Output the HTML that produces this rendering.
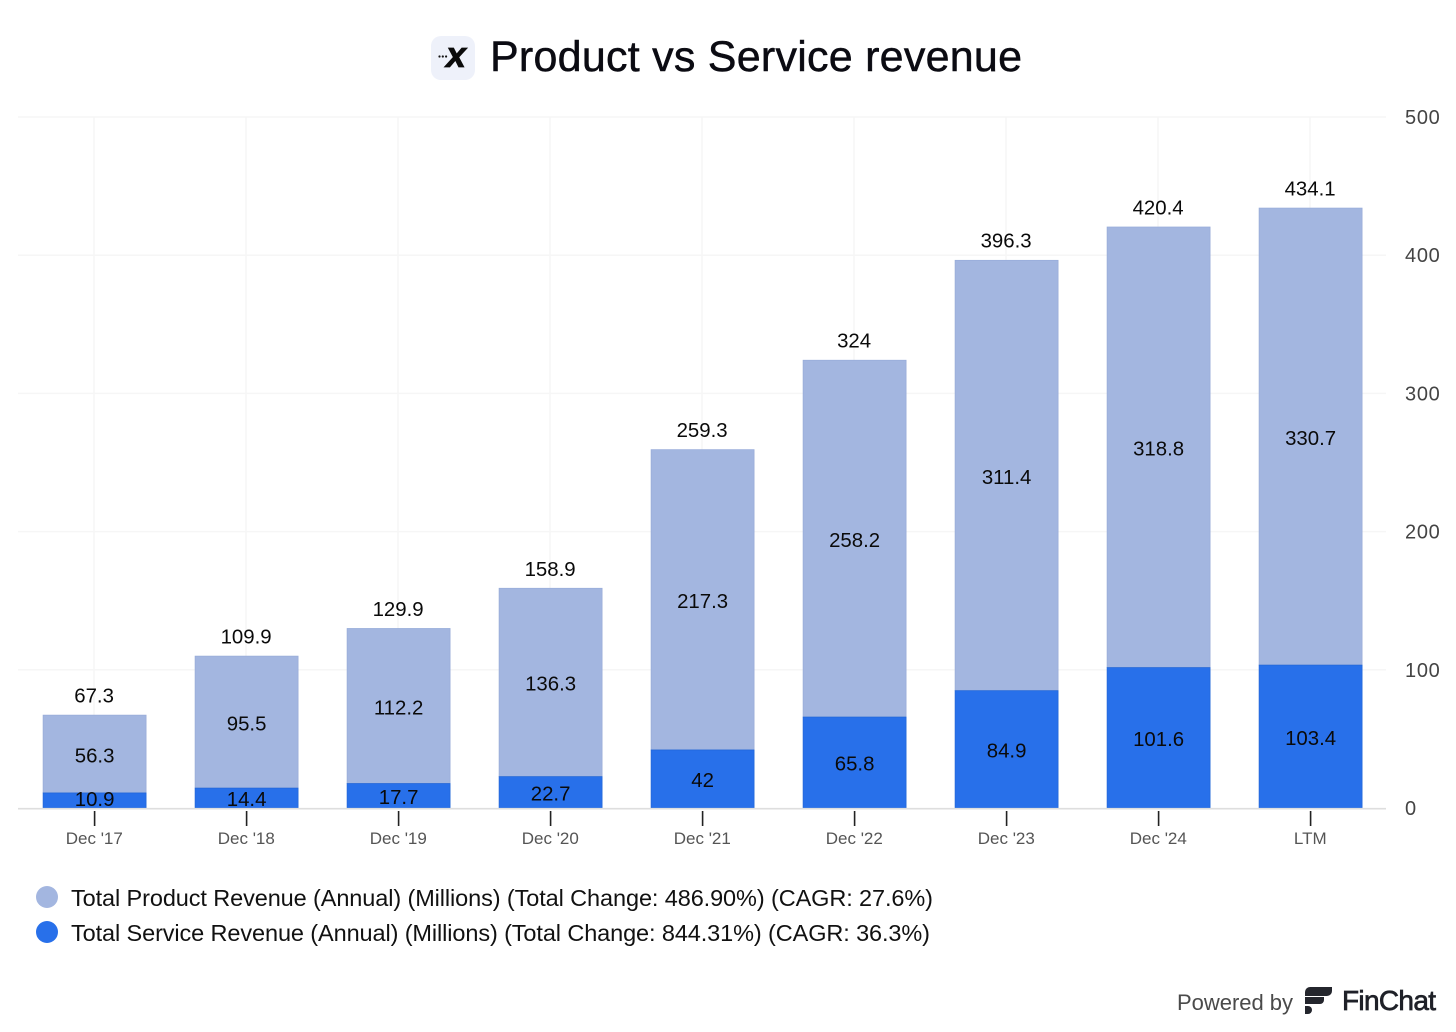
<!DOCTYPE html>
<html lang="en">
<head>
<meta charset="utf-8">
<title>Product vs Service revenue</title>
<style>
html,body{margin:0;padding:0;background:#fff;}
body{width:1456px;height:1032px;overflow:hidden;}
svg{display:block;}
text{font-family:"Liberation Sans",sans-serif;}
</style>
</head>
<body>
<svg id="chart" width="1456" height="1032" viewBox="0 0 1456 1032" xmlns="http://www.w3.org/2000/svg">
  <rect x="0" y="0" width="1456" height="1032" fill="#ffffff"/>
  <g>
    <rect x="431" y="36" width="44" height="44" rx="10" fill="#eef1fa"/>
    <circle cx="439.5" cy="56.5" r="1.1" fill="#111"/>
    <circle cx="442.8" cy="56.5" r="1.1" fill="#111"/>
    <circle cx="446.1" cy="56.5" r="1.1" fill="#111"/>
    <text x="446" y="67" font-size="36" font-weight="700" font-style="italic" fill="#0b0b0b" stroke="#0b0b0b" stroke-width="0.8">x</text>
  </g>
  <text x="490" y="71" font-size="43" fill="#0b0b12" stroke="#0b0b12" stroke-width="0.5" textLength="532" lengthAdjust="spacing">Product vs Service revenue</text>
  <g id="grid"></g>
  <g id="bars"></g>
  <g id="axes"></g>
  <g id="labels"></g>

  <g>
    <g>
      <circle cx="47" cy="897" r="11" fill="#a3b6e0"/>
      <text x="71" y="906" font-size="23.5" fill="#111" textLength="862" lengthAdjust="spacing">Total Product Revenue (Annual) (Millions) (Total Change: 486.90%) (CAGR: 27.6%)</text>
    </g>
    <g>
      <circle cx="47" cy="932" r="11" fill="#2870ea"/>
      <text x="71" y="941" font-size="23.5" fill="#111" textLength="859" lengthAdjust="spacing">Total Service Revenue (Annual) (Millions) (Total Change: 844.31%) (CAGR: 36.3%)</text>
    </g>
  </g>

  <g>
    <text x="1177" y="1010" font-size="22" fill="#4a4a4a" textLength="116" lengthAdjust="spacing">Powered by</text>
    <g>
      <path d="M1305 992 a5 5 0 0 1 5 -5 h22 v4 a5 5 0 0 1 -5 5 h-22 z" fill="#24262d"/>
      <path d="M1305 997 h19 v3 a4 4 0 0 1 -4 4 h-15 z" fill="#24262d"/>
      <path d="M1305 1006 h3 a4 4 0 0 1 4 4 a4 4 0 0 1 -4 4 h-3 z" fill="#24262d"/>
      <text x="1342" y="1010" font-size="28" fill="#1f2128" stroke="#1f2128" stroke-width="0.7" textLength="94" lengthAdjust="spacing">FinChat</text>
    </g>
  </g>
</svg>
<script>
var categories = ["Dec '17", "Dec '18", "Dec '19", "Dec '20", "Dec '21", "Dec '22", "Dec '23", "Dec '24", "LTM"];
var productValues = [56.3, 95.5, 112.2, 136.3, 217.3, 258.2, 311.4, 318.8, 330.7];
var serviceValues = [10.9, 14.4, 17.7, 22.7, 42, 65.8, 84.9, 101.6, 103.4];
var totalValues = [67.3, 109.9, 129.9, 158.9, 259.3, 324, 396.3, 420.4, 434.1];
var yTicks = [0, 100, 200, 300, 400, 500];

var NS = 'http://www.w3.org/2000/svg';
var plotLeft = 18, plotRight = 1386, plotTop = 117, plotBottom = 808, yMax = 500, barWidth = 103;

function xCenter(i) {
  return plotLeft + 0.6 + (plotRight - plotLeft) * (i + 0.5) / categories.length;
}
function yScale(v) {
  return plotBottom - (plotBottom - plotTop) * v / yMax;
}
function make(tag, attrs, parent, content) {
  var el = document.createElementNS(NS, tag);
  for (var k in attrs) el.setAttribute(k, attrs[k]);
  if (content !== undefined) el.textContent = content;
  parent.appendChild(el);
  return el;
}

var grid = document.getElementById('grid');
var bars = document.getElementById('bars');
var axes = document.getElementById('axes');
var labels = document.getElementById('labels');

yTicks.forEach(function (t) {
  if (t !== 0) {
    var gl = make('line', {x1: plotLeft, x2: plotRight, y1: yScale(t), y2: yScale(t), stroke: '#f6f6f6', 'stroke-width': 1.5}, grid);
    
    
  }
  var tl = make('text', {x: 1405, y: yScale(t) + 7, 'font-size': 20, fill: '#444', textLength: String(t).length * 11.6, lengthAdjust: 'spacing'}, axes, String(t));
  
  
});

categories.forEach(function (c, i) {
  var x = xCenter(i);
  var gv = make('line', {x1: x - 0.6, x2: x - 0.6, y1: plotTop, y2: plotBottom, stroke: '#f6f6f6', 'stroke-width': 1.5}, grid);
  
  

  var yService = yScale(serviceValues[i]);
  var yProduct = yScale(serviceValues[i] + productValues[i]);

  var pb = make('rect', {x: x - barWidth / 2, y: yProduct, width: barWidth, height: yService - yProduct, fill: '#a3b6e0', stroke: '#98acd9', 'stroke-width': 0.75}, bars);
  
  

  var sb = make('rect', {x: x - barWidth / 2, y: yService, width: barWidth, height: plotBottom - yService, fill: '#2870ea', stroke: '#2166d8', 'stroke-width': 0.75}, bars);
  
  

  var tick = make('line', {x1: x, x2: x, y1: 811, y2: 826, stroke: '#222', 'stroke-width': 1.6}, axes);
  
  

  var xl = make('text', {x: x - 0.3, y: 844, 'font-size': 17, fill: '#555', 'text-anchor': 'middle'}, axes, c);
  
  

  var lp = make('text', {x: x, y: (yProduct + yService) / 2 + 8.3, 'font-size': 20.4, fill: '#0a0a0a', 'text-anchor': 'middle'}, labels, String(productValues[i]));
  
  

  var ls = make('text', {x: x, y: Math.min((yService + plotBottom) / 2 + 8.2, 806), 'font-size': 20.4, fill: '#0a0a0a', 'text-anchor': 'middle'}, labels, String(serviceValues[i]));
  
  

  var lt = make('text', {x: x - 0.5, y: yScale(totalValues[i]) - 12.6, 'font-size': 20.4, fill: '#0a0a0a', 'text-anchor': 'middle'}, labels, String(totalValues[i]));
  
  
});

var baseline = make('line', {x1: plotLeft, x2: plotRight, y1: 808.7, y2: 808.7, stroke: '#dedede', 'stroke-width': 1.6}, axes);


</script>
</body>
</html>
